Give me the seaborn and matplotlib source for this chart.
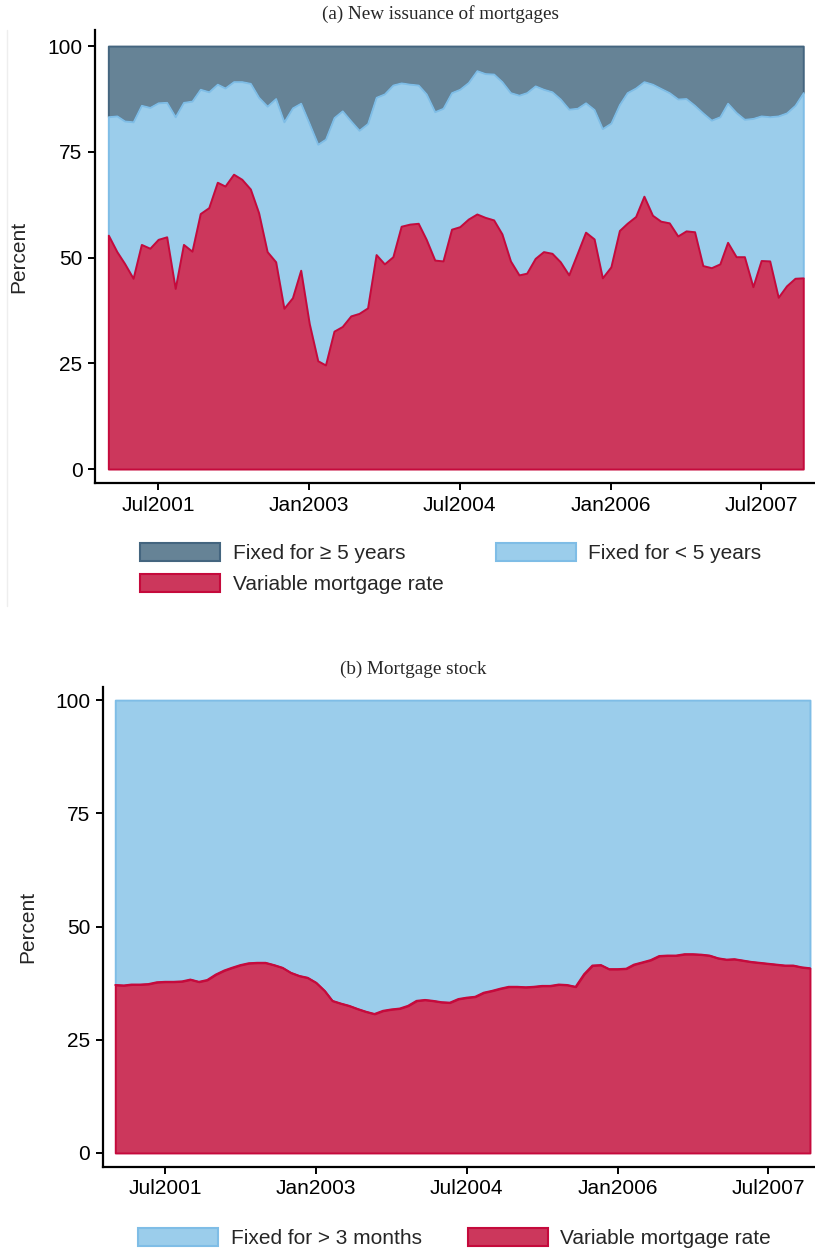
import numpy as np
import pandas as pd
import matplotlib
matplotlib.use("Agg")
import matplotlib.pyplot as plt
import matplotlib.dates as mdates
from matplotlib.patches import Patch
from matplotlib.lines import Line2D
import seaborn as sns

months = pd.date_range("2001-01-01", "2007-12-01", freq="MS")

# (a) new issuance, shares in percent (one line per year)
new_variable = [
    55.3, 51.4, 48.6, 45.1, 53.1, 52.2, 54.3, 54.9, 42.7, 53.1, 51.5, 60.4,
    61.8, 67.8, 66.9, 69.7, 68.5, 66.2, 60.6, 51.4, 49.0, 38.0, 40.5, 47.0,
    34.4, 25.6, 24.6, 32.6, 33.7, 36.2, 36.8, 38.1, 50.7, 48.5, 50.2, 57.4,
    57.9, 58.1, 54.3, 49.4, 49.2, 56.7, 57.3, 59.1, 60.3, 59.5, 58.9, 55.6,
    49.2, 45.9, 46.3, 49.8, 51.4, 51.0, 49.0, 45.9, 51.0, 56.0, 54.4, 45.2,
    47.8, 56.4, 58.1, 59.7, 64.5, 60.0, 58.6, 58.2, 55.1, 56.3, 56.1, 48.1,
    47.6, 48.5, 53.6, 50.2, 50.2, 43.1, 49.3, 49.2, 40.6, 43.3, 45.1, 45.2,
]
new_fixed_lt5 = [
    28.0, 32.1, 33.7, 37.0, 32.9, 33.3, 32.3, 31.8, 40.6, 33.6, 35.5, 29.4,
    27.4, 23.2, 23.2, 21.9, 23.1, 25.0, 27.3, 34.4, 38.6, 44.1, 44.9, 39.5,
    47.3, 51.2, 53.4, 50.5, 51.0, 46.1, 43.3, 43.6, 37.2, 40.2, 40.6, 33.9,
    33.1, 32.7, 34.4, 35.1, 36.1, 32.3, 32.5, 32.3, 33.9, 34.0, 34.5, 36.0,
    39.8, 42.5, 42.7, 40.8, 38.4, 38.2, 38.5, 39.2, 34.3, 30.6, 30.6, 35.3,
    34.0, 29.8, 30.9, 30.4, 27.1, 31.0, 31.4, 30.8, 32.4, 31.3, 29.9, 36.1,
    34.9, 34.8, 32.9, 34.1, 32.5, 39.8, 34.2, 34.1, 42.9, 40.9, 40.9, 43.8,
]
new_fixed_ge5 = [
    16.7, 16.5, 17.7, 17.9, 14.0, 14.5, 13.4, 13.3, 16.7, 13.3, 13.0, 10.2,
    10.8, 9.0, 9.9, 8.4, 8.4, 8.8, 12.1, 14.2, 12.4, 17.9, 14.6, 13.5,
    18.3, 23.2, 22.0, 16.9, 15.3, 17.7, 19.9, 18.3, 12.1, 11.3, 9.2, 8.7,
    9.0, 9.2, 11.3, 15.5, 14.7, 11.0, 10.2, 8.6, 5.8, 6.5, 6.6, 8.4,
    11.0, 11.6, 11.0, 9.4, 10.2, 10.8, 12.5, 14.9, 14.7, 13.4, 15.0, 19.5,
    18.2, 13.8, 11.0, 9.9, 8.4, 9.0, 10.0, 11.0, 12.5, 12.4, 14.0, 15.8,
    17.5, 16.7, 13.5, 15.7, 17.3, 17.1, 16.5, 16.7, 16.5, 15.8, 14.0, 11.0,
]

# (b) mortgage stock
stock_variable = [
    37.1, 37.0, 37.2, 37.2, 37.3, 37.7, 37.8, 37.8, 37.9, 38.3, 37.8, 38.2,
    39.4, 40.3, 40.9, 41.5, 41.9, 42.0, 42.0, 41.5, 40.9, 39.8, 39.1, 38.7,
    37.6, 35.8, 33.6, 33.0, 32.5, 31.8, 31.2, 30.7, 31.4, 31.7, 31.9, 32.5,
    33.6, 33.8, 33.6, 33.3, 33.2, 34.0, 34.3, 34.5, 35.4, 35.8, 36.3, 36.7,
    36.7, 36.6, 36.7, 36.9, 36.9, 37.2, 37.1, 36.7, 39.5, 41.4, 41.5, 40.6,
    40.6, 40.7, 41.6, 42.1, 42.6, 43.5, 43.6, 43.6, 43.9, 43.9, 43.8, 43.6,
    43.0, 42.7, 42.8, 42.5, 42.2, 42.0, 41.8, 41.6, 41.4, 41.4, 41.0, 40.8,
]
stock_fixed_gt3m = [
    62.9, 63.0, 62.8, 62.8, 62.7, 62.3, 62.2, 62.2, 62.1, 61.7, 62.2, 61.8,
    60.6, 59.7, 59.1, 58.5, 58.1, 58.0, 58.0, 58.5, 59.1, 60.2, 60.9, 61.3,
    62.4, 64.2, 66.4, 67.0, 67.5, 68.2, 68.8, 69.3, 68.6, 68.3, 68.1, 67.5,
    66.4, 66.2, 66.4, 66.7, 66.8, 66.0, 65.7, 65.5, 64.6, 64.2, 63.7, 63.3,
    63.3, 63.4, 63.3, 63.1, 63.1, 62.8, 62.9, 63.3, 60.5, 58.6, 58.5, 59.4,
    59.4, 59.3, 58.4, 57.9, 57.4, 56.5, 56.4, 56.4, 56.1, 56.1, 56.2, 56.4,
    57.0, 57.3, 57.2, 57.5, 57.8, 58.0, 58.2, 58.4, 58.6, 58.6, 59.0, 59.2,
]

tick_dates = pd.to_datetime(["2001-07-01", "2003-01-01", "2004-07-01", "2006-01-01", "2007-07-01"])
tick_labels = ["Jul2001", "Jan2003", "Jul2004", "Jan2006", "Jul2007"]
y_ticks = [0, 25, 50, 75, 100]

dark_fill, dark_edge = "#668396", "#44657f"
light_fill, light_edge = "#9bcdeb", "#7fbde6"
red_fill, red_edge = "#cc375c", "#c50a3c"

sns.set_theme(style="ticks")
plt.rcParams["font.family"] = ["Liberation Sans", "DejaVu Sans"]
plt.rcParams["axes.edgecolor"] = "black"

fig = plt.figure(figsize=(8.15, 12.48), dpi=100)
ax1 = fig.add_axes([95 / 815, 1 - 483 / 1248, 720 / 815, 453 / 1248])
ax2 = fig.add_axes([102.7 / 815, 1 - 1167 / 1248, 712.3 / 815, 480 / 1248])

# stack boundaries
v = np.array(new_variable)
c1 = v + np.array(new_fixed_lt5)
c2 = c1 + np.array(new_fixed_ge5)
ax1.fill_between(months, c1, c2, facecolor=dark_fill, edgecolor=dark_edge, lw=1.4)
ax1.fill_between(months, v, c1, facecolor=light_fill, edgecolor=light_edge, lw=1.4)
ax1.fill_between(months, 0, v, facecolor=red_fill, edgecolor=red_edge, lw=1.4)

sv = np.array(stock_variable)
ax2.fill_between(months, sv, sv + np.array(stock_fixed_gt3m), facecolor=light_fill, edgecolor=light_edge, lw=1.4)
ax2.fill_between(months, 0, sv, facecolor=red_fill, edgecolor=red_edge, lw=1.4)
sns.lineplot(x=months, y=sv, ax=ax2, color=red_edge, lw=1.4)

x0 = mdates.date2num(months[0])
x1 = mdates.date2num(months[-1])
ax1.set_xlim(x0 - 1.59 * 30.44, x1 + 1.4 * 30.44)
ax1.set_ylim(-3.3, 103.8)
ax2.set_xlim(x0 - 1.5 * 30.44, x1 + 0.6 * 30.44)
ax2.set_ylim(-3.1, 102.9)

for ax, lab_x in ((ax1, -0.093), (ax2, -0.092)):
    sns.despine(ax=ax)
    ax.spines["left"].set_linewidth(1.6)
    ax.spines["bottom"].set_linewidth(1.6)
    ax.set_xticks(tick_dates)
    ax.set_xticklabels(tick_labels)
    ax.set_yticks(y_ticks)
    ax.set_yticklabels([str(t) for t in y_ticks])
    ax.tick_params(axis="both", direction="out", length=5, width=1.4, labelsize=15, colors="black")
    ax.tick_params(axis="x", pad=4)
    ax.tick_params(axis="y", pad=4)
    ax.set_xlabel("")
    ax.set_ylabel("Percent", fontsize=15)
    ax.yaxis.set_label_coords(lab_x, 0.5)
    ax.set_facecolor("white")

fig.text(440 / 815, 1 - 14 / 1248, "(a) New issuance of mortgages", ha="center", va="center",
         fontsize=13.8, family="Liberation Serif")
fig.text(413 / 815, 1 - 669 / 1248, "(b) Mortgage stock", ha="center", va="center",
         fontsize=13.8, family="Liberation Serif")

h_ge5 = Patch(facecolor=dark_fill, edgecolor=dark_edge, lw=1.5, label="Fixed for \u2265 5 years")
h_lt5 = Patch(facecolor=light_fill, edgecolor=light_edge, lw=1.5, label="Fixed for < 5 years")
h_var = Patch(facecolor=red_fill, edgecolor=red_edge, lw=1.5, label="Variable mortgage rate")
h_gt3 = Patch(facecolor=light_fill, edgecolor=light_edge, lw=1.5, label="Fixed for > 3 months")

leg_kw = dict(frameon=False, fontsize=15, handlelength=3.85, handleheight=0.95, handletextpad=0.6,
              labelspacing=0.52, borderpad=0, borderaxespad=0, loc="upper left")
fig.legend(handles=[h_ge5, h_var, h_lt5], ncol=2, columnspacing=2.5,
           bbox_to_anchor=(140 / 815, 1 - 543 / 1248), **leg_kw)
fig.legend(handles=[h_gt3, h_var], ncol=2, columnspacing=2.2,
           bbox_to_anchor=(138 / 815, 1 - 1228 / 1248), **leg_kw)

fig.add_artist(Line2D([7 / 815, 7 / 815], [1 - 30 / 1248, 1 - 606 / 1248], color="#eeeeee", lw=1))

fig.savefig("out.png", dpi=100)
